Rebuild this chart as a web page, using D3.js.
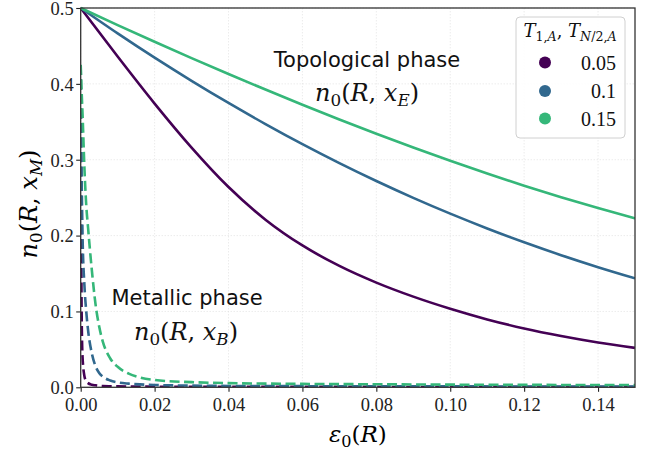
<!DOCTYPE html>
<html>
<head>
<meta charset="utf-8">
<script src="https://cdn.jsdelivr.net/npm/d3@7"></script>
<style>
  body { margin: 0; background: #fff; }
  text { font-family: "Liberation Serif", serif; }
  .math { font-family: "DejaVu Serif", serif; }
</style>
</head>
<body>
<svg id="chart" width="650" height="455"></svg>
<script>
// valeurs
const tValues = ["0.05", "0.1", "0.15"];
const colors = ["#440154", "#31688e", "#35b779"];

// phase topologique (traits pleins)
const epsSolid = [0, 0.01, 0.02, 0.03, 0.04, 0.05, 0.06, 0.07, 0.08, 0.09, 0.10, 0.11, 0.12, 0.13, 0.14, 0.15];
const topo005 = [0.5, 0.436, 0.374, 0.316, 0.264, 0.221, 0.187, 0.16, 0.138, 0.1195, 0.1035, 0.0895, 0.0775, 0.0675, 0.059, 0.052];
const topo010 = [0.5, 0.4665, 0.4345, 0.404, 0.3748, 0.347, 0.3205, 0.2955, 0.2719, 0.2497, 0.2289, 0.2094, 0.1912, 0.1742, 0.1584, 0.1437];
const topo015 = [0.5, 0.4775, 0.4555, 0.434, 0.413, 0.3925, 0.3725, 0.3531, 0.3343, 0.3161, 0.2986, 0.2818, 0.2658, 0.2506, 0.2362, 0.2226];

// phase metallique (tirets)
const epsDash = [0, 0.00025, 0.0005, 0.001, 0.0015, 0.002, 0.003, 0.004, 0.005, 0.006, 0.008, 0.01, 0.013, 0.016, 0.02, 0.03, 0.04, 0.06, 0.08, 0.1, 0.12, 0.15];
const metal005 = [0.425, 0.1, 0.04, 0.015, 0.008, 0.0055, 0.0035, 0.0026, 0.002, 0.0017, 0.0014, 0.0012, 0.001, 0.0009, 0.0008, 0.0007, 0.0006, 0.0005, 0.0005, 0.0004, 0.0004, 0.0004];
const metal010 = [0.425, 0.28, 0.2, 0.135, 0.1, 0.075, 0.045, 0.028, 0.019, 0.014, 0.009, 0.0065, 0.0048, 0.0038, 0.003, 0.0022, 0.0018, 0.0015, 0.0013, 0.0012, 0.0011, 0.001];
const metal015 = [0.425, 0.39, 0.36, 0.29, 0.24, 0.21, 0.155, 0.11, 0.08, 0.06, 0.038, 0.027, 0.018, 0.013, 0.0096, 0.0068, 0.0055, 0.0045, 0.004, 0.0035, 0.0032, 0.003];

const xTicks = [0, 0.02, 0.04, 0.06, 0.08, 0.10, 0.12, 0.14];
const yTicks = [0, 0.1, 0.2, 0.3, 0.4, 0.5];

const margin = { left: 80.7, right: 15, top: 8, bottom: 67.7 };
const W = 650, H = 455;
const svg = d3.select("#chart");

const x = d3.scaleLinear().domain([0, 0.15]).range([margin.left, W - margin.right]);
const y = d3.scaleLinear().domain([0, 0.5]).range([H - margin.bottom, margin.top]);

// grille pointillee
svg.append("g").selectAll("line").data(xTicks).enter().append("line")
  .attr("x1", d => x(d)).attr("x2", d => x(d))
  .attr("y1", y(0)).attr("y2", y(0.5))
  .attr("stroke", "#dcdcdc").attr("stroke-width", 0.8).attr("stroke-dasharray", "1,2");
svg.append("g").selectAll("line").data(yTicks).enter().append("line")
  .attr("y1", d => y(d)).attr("y2", d => y(d))
  .attr("x1", x(0)).attr("x2", x(0.15))
  .attr("stroke", "#dcdcdc").attr("stroke-width", 0.8).attr("stroke-dasharray", "1,2");

const line = d3.line().x(d => x(d[0])).y(d => y(d[1])).curve(d3.curveMonotoneX);

svg.append("clipPath").attr("id", "clip").append("rect")
  .attr("x", x(0)).attr("y", y(0.5) - 2).attr("width", x(0.15) - x(0)).attr("height", y(0) - y(0.5) + 2);

const plot = svg.append("g").attr("clip-path", "url(#clip)");

[metal005, metal010, metal015].forEach((vals, i) => {
  plot.append("path")
    .attr("d", line(epsDash.map((e, j) => [e, vals[j]])))
    .attr("fill", "none").attr("stroke", colors[i]).attr("stroke-width", 2.6)
    .attr("stroke-dasharray", "10,4.5");
});

[topo005, topo010, topo015].forEach((vals, i) => {
  plot.append("path")
    .attr("d", line(epsSolid.map((e, j) => [e, vals[j]])))
    .attr("fill", "none").attr("stroke", colors[i]).attr("stroke-width", 2.6);
});

// axes
const xAxis = svg.append("g").attr("transform", `translate(0,${y(0)})`)
  .call(d3.axisBottom(x).tickValues(xTicks).tickFormat(d3.format(".2f")).tickSize(4.5).tickSizeOuter(0));
const yAxis = svg.append("g").attr("transform", `translate(${x(0)},0)`)
  .call(d3.axisLeft(y).tickValues(yTicks).tickFormat(d3.format(".1f")).tickSize(4.5).tickSizeOuter(0));
[xAxis, yAxis].forEach(a => {
  a.select(".domain").remove();
  a.selectAll("line").attr("stroke", "#222").attr("stroke-width", 1.1);
  a.selectAll("text").attr("fill", "#222").style("font-size", "18.5px")
    .style("font-family", "'Liberation Serif', serif");
});
xAxis.selectAll("text").attr("dy", "0.95em").attr("y", 6);
yAxis.selectAll("text").attr("x", -7).attr("dy", "0.34em");

// cadre
svg.append("rect")
  .attr("x", x(0)).attr("y", y(0.5)).attr("width", x(0.15) - x(0)).attr("height", y(0) - y(0.5))
  .attr("fill", "none").attr("stroke", "#333").attr("stroke-width", 1.3);

// texte mathematique simple
function addMath(sel, parts, size) {
  sel.attr("class", "math");
  let shift = 0;
  parts.forEach(p => {
    const ts = sel.append("tspan").text(p.t)
      .style("font-style", p.i ? "italic" : "normal")
      .style("font-size", (p.s ? size * 0.7 : size) + "px");
    const target = p.s ? size * 0.22 : 0;
    if (target !== shift) { ts.attr("dy", target - shift); shift = target; }
  });
}

const xl = svg.append("text").attr("x", x(0.075)).attr("y", 442).attr("text-anchor", "middle");
addMath(xl, [{t: "ε", i: 1}, {t: "0", s: 1}, {t: "("}, {t: "R", i: 1}, {t: ")"}], 23);

const yl = svg.append("text").attr("transform", `translate(37,204) rotate(-90)`)
  .attr("text-anchor", "middle");
addMath(yl, [{t: "n", i: 1}, {t: "0", s: 1}, {t: "("}, {t: "R", i: 1}, {t: ", "}, {t: "x", i: 1}, {t: "M", i: 1, s: 1}, {t: ")"}], 24);

// annotations
svg.append("text").attr("x", 367).attr("y", 67).attr("text-anchor", "middle")
  .style("font-family", "'DejaVu Sans', sans-serif").style("font-size", "21px").attr("fill", "#111")
  .text("Topological phase");
const t2 = svg.append("text").attr("x", 367).attr("y", 101).attr("text-anchor", "middle").attr("fill", "#111");
addMath(t2, [{t: "n", i: 1}, {t: "0", s: 1}, {t: "("}, {t: "R", i: 1}, {t: ", "}, {t: "x", i: 1}, {t: "E", i: 1, s: 1}, {t: ")"}], 24);

svg.append("text").attr("x", 187).attr("y", 305).attr("text-anchor", "middle")
  .style("font-family", "'DejaVu Sans', sans-serif").style("font-size", "21px").attr("fill", "#111")
  .text("Metallic phase");
const m2 = svg.append("text").attr("x", 186).attr("y", 340).attr("text-anchor", "middle").attr("fill", "#111");
addMath(m2, [{t: "n", i: 1}, {t: "0", s: 1}, {t: "("}, {t: "R", i: 1}, {t: ", "}, {t: "x", i: 1}, {t: "B", i: 1, s: 1}, {t: ")"}], 24);

// legende
const leg = svg.append("g");
leg.append("rect").attr("x", 516).attr("y", 17).attr("width", 109).attr("height", 121)
  .attr("rx", 4).attr("fill", "#fff").attr("fill-opacity", 0.85)
  .attr("stroke", "#d0d0d0").attr("stroke-width", 1);
const lt = leg.append("text").attr("x", 570).attr("y", 37).attr("text-anchor", "middle").attr("fill", "#111");
addMath(lt, [{t: "T", i: 1}, {t: "1,", s: 1}, {t: "A", i: 1, s: 1}, {t: ", "}, {t: "T", i: 1},
  {t: "N", i: 1, s: 1}, {t: "/2,", s: 1}, {t: "A", i: 1, s: 1}], 18);
const legY = [62.5, 91, 118.5];
tValues.forEach((v, i) => {
  leg.append("circle").attr("cx", 545).attr("cy", legY[i]).attr("r", 6).attr("fill", colors[i]);
  leg.append("text").attr("x", 616).attr("y", legY[i]).attr("dy", "0.35em").attr("text-anchor", "end")
    .style("font-size", "20px").attr("fill", "#111").text(v);
});
</script>
</body>
</html>
